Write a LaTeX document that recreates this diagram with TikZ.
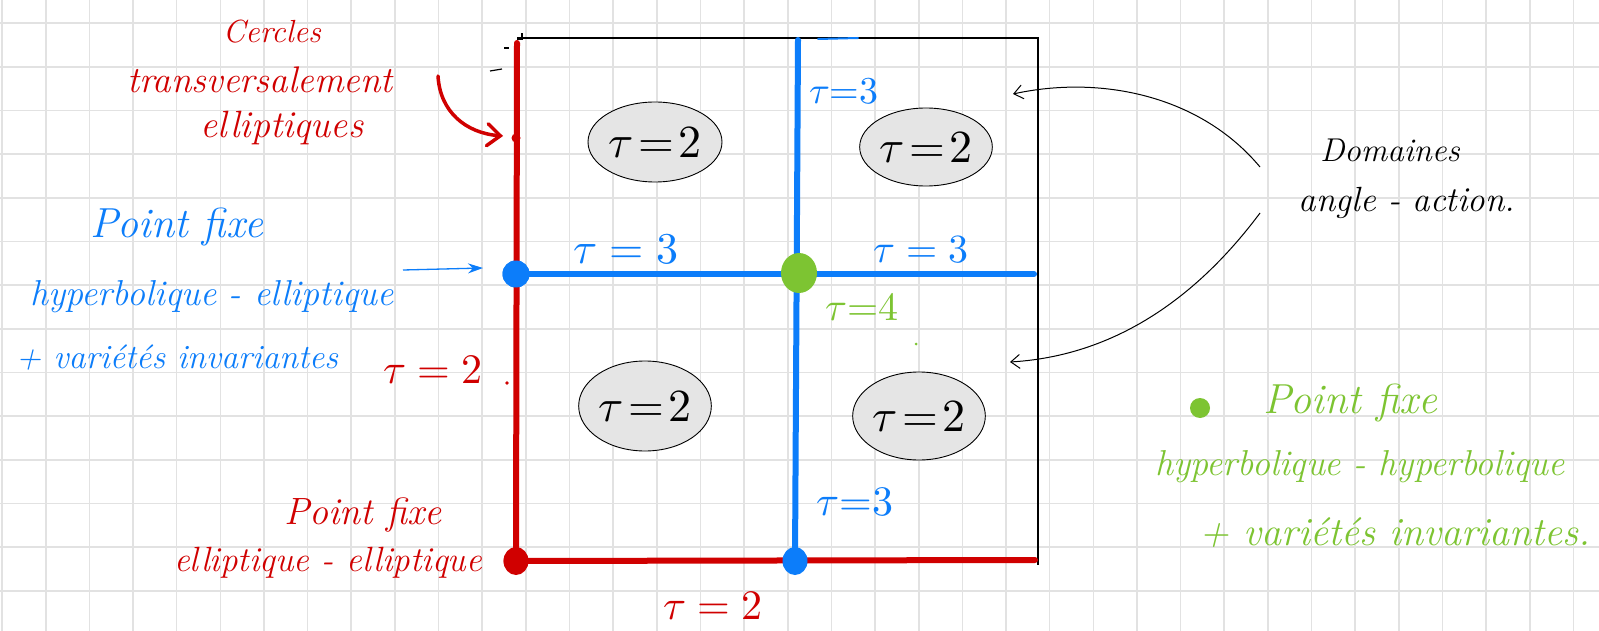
\documentclass[tikz,border=0pt]{standalone}
\usepackage{fontspec}
\usepackage{unicode-math}
\usetikzlibrary{shapes.geometric,arrows.meta}
\definecolor{hred}{RGB}{208,0,0}
\definecolor{hblue}{RGB}{12,125,250}
\definecolor{hgreen}{RGB}{125,196,50}
\definecolor{gridgray}{RGB}{226,226,226}
\definecolor{ellfill}{RGB}{229,229,229}
\newcommand{\fs}[1]{\fontsize{#1}{#1}\selectfont}
\begin{document}
\begin{tikzpicture}[x=1pt,y=-1pt,
  gridline/.style={draw=gridgray,line width=1.6pt},
  thickred/.style={draw=hred,line width=6pt,line cap=round},
  thickblue/.style={draw=hblue,line width=6pt,line cap=round},
  framebox/.style={draw=black,line width=1.5pt},
  domainell/.style={ellipse,draw=black,line width=0.9pt,fill=ellfill,inner sep=0pt},
  hand/.style={inner sep=0pt,font=\itshape},
  dotnode/.style={circle,inner sep=0pt},
  blackarrow/.style={draw=black,line width=1pt,-{Straight Barb[length=9pt,width=14pt]}}]
\useasboundingbox (0,0) rectangle (1599,631);
\fill[white] (0,0) rectangle (1599,631);
% grid
\foreach \k in {0,...,36} {\draw[gridline] ({2.05+43.65*\k},0) -- ({2.05+43.65*\k},631);}
\foreach \k in {0,...,13} {\draw[gridline] (0,{23.3+43.65*\k}) -- (1599,{23.3+43.65*\k});}
% frame
\coordinate (fTL) at (517,38);
\coordinate (fTR) at (1038,38);
\coordinate (fBR) at (1038,565);
\draw[framebox] (fTL) -- (fTR) -- (fBR);
\draw[framebox] (517,39) -- (522,39) -- (522,33);
\draw[black,line width=1.5pt] (504,48) -- (509,48);
\draw[black,line width=1.2pt] (490,71) -- (502,69);
% dots (nodes)
\node[dotnode,fill=hred,minimum width=25pt,minimum height=25pt,ellipse] (pEE) at (516,561) {};
\node[dotnode,fill=hblue,minimum size=27pt] (pHE) at (516,274) {};
\node[dotnode,fill=hblue,minimum width=25pt,minimum height=25pt,ellipse] (pEH) at (795,561) {};
\coordinate (redTop) at (517,43);
\coordinate (redRight) at (1035,560);
\coordinate (blueTop) at (798,40);
\coordinate (blueRight) at (1034,274);
% lines
\draw[thickred] (redTop) -- (pEE.center);
\draw[thickred] (pEE.center) -- (redRight);
\draw[thickblue] (pHE.center) -- (blueRight);
\draw[thickblue] (blueTop) -- (pEH.center);
\draw[hblue,line width=2pt,line cap=round] (818,39) -- (858,38);
\fill[hred] (516,138) circle (4.5pt);
% redraw dots on top
\node[dotnode,fill=hred,minimum width=25pt,minimum height=28pt,ellipse] at (516,561) {};
\node[dotnode,fill=hblue,minimum size=27pt] at (516,274) {};
\node[dotnode,fill=hblue,minimum width=25pt,minimum height=28pt,ellipse] at (795,561) {};
\node[dotnode,ellipse,fill=hgreen,minimum width=36pt,minimum height=40pt] (pHH) at (799,273) {};
\fill[hgreen] (916,344) circle (1.5pt);
% domains
\node[domainell,minimum width=134pt,minimum height=80pt] (d1) at (655,142) {\fs{46}$\tau\mkern2mu{=}\mkern2mu2$};
\node[domainell,minimum width=128pt,minimum height=78pt] (d2) at (926,147) {\fs{46}$\tau\mkern2mu{=}\mkern2mu2$};
\node[domainell,minimum width=130pt,minimum height=90pt] (d3) at (645,406) {\fs{46}$\tau\mkern2mu{=}\mkern2mu2$};
\node[domainell,minimum width=130pt,minimum height=88pt] (d4) at (919,416) {\fs{46}$\tau\mkern2mu{=}\mkern2mu2$};
% tau labels
\node[inner sep=0pt,text=hblue] (t1) at (844,91) {\fs{38}$\tau{=}3$};
\node[inner sep=0pt,text=hblue] (t2) at (626,249) {\fs{44}$\tau = 3$};
\node[inner sep=0pt,text=hblue] (t3) at (921,250) {\fs{40}$\tau = 3$};
\node[inner sep=0pt,text=hgreen] (t4) at (862,307) {\fs{40}$\tau{=}4$};
\node[inner sep=0pt,text=hblue] (t5) at (855,502) {\fs{42}$\tau{=}3$};
\node[inner sep=0pt,text=hred] (t6) at (433,370) {\fs{42}$\tau = 2$};
\fill[hred] (507,383) circle (1.8pt);
\node[inner sep=0pt,text=hred] (t7) at (713,606) {\fs{42}$\tau = 2$};
% red top-left label
\node[hand,text=hred] (cer1) at (272,32) {\fs{32}Cercles};
\node[hand,text=hred] (cer2) at (260,80) {\fs{37}transversalement};
\node[hand,text=hred] (cer3) at (282,128) {\fs{38}elliptiques};
% blue label
\node[hand,text=hblue] (bl1) at (177,227) {\fs{42}Point fixe};
\node[hand,text=hblue] (bl2) at (212,297) {\fs{36}hyperbolique - elliptique};
\node[hand,text=hblue] (bl3) at (177,358) {\fs{34}+ variétés invariantes};
% red bottom label
\node[hand,text=hred] (rl1) at (363,515) {\fs{38}Point fixe};
\node[hand,text=hred] (rl2) at (328,563) {\fs{35}elliptique - elliptique};
% black label
\node[hand] (dom1) at (1390,150) {\fs{33}Domaines};
\node[hand] (dom2) at (1407,203) {\fs{35}angle - action.};
% green legend
\node[dotnode,fill=hgreen,minimum size=20pt] (gdot) at (1200,408) {};
\node[hand,text=hgreen] (gl1) at (1350,403) {\fs{42}Point fixe};
\node[hand,text=hgreen] (gl2) at (1360,467) {\fs{36}hyperbolique - hyperbolique};
\node[hand,text=hgreen] (gl3) at (1395,533) {\fs{40}+ variétés invariantes.};
% arrows
\coordinate (rAs) at (438,76);
\coordinate (rAe) at (503,136);
\draw[hred,line width=3.5pt,line cap=round,-{Straight Barb[length=13pt,width=22pt,line cap=round]}] (rAs) .. controls (440,112) and (466,133) .. (rAe);
\coordinate (bAs) at (403,270);
\coordinate (bAe) at (483,268);
\draw[hblue,line width=1.3pt,-{Stealth[length=15pt,width=10pt]}] (bAs) -- (bAe);
\coordinate (kAs1) at (1260,167);
\coordinate (kAe1) at (1013,94);
\coordinate (kAs2) at (1260,213);
\coordinate (kAe2) at (1010,362);
\draw[blackarrow] (kAs1) .. controls (1200,95) and (1100,75) .. (kAe1);
\draw[blackarrow] (kAs2) .. controls (1210,280) and (1130,355) .. (kAe2);
\end{tikzpicture}
\end{document}
